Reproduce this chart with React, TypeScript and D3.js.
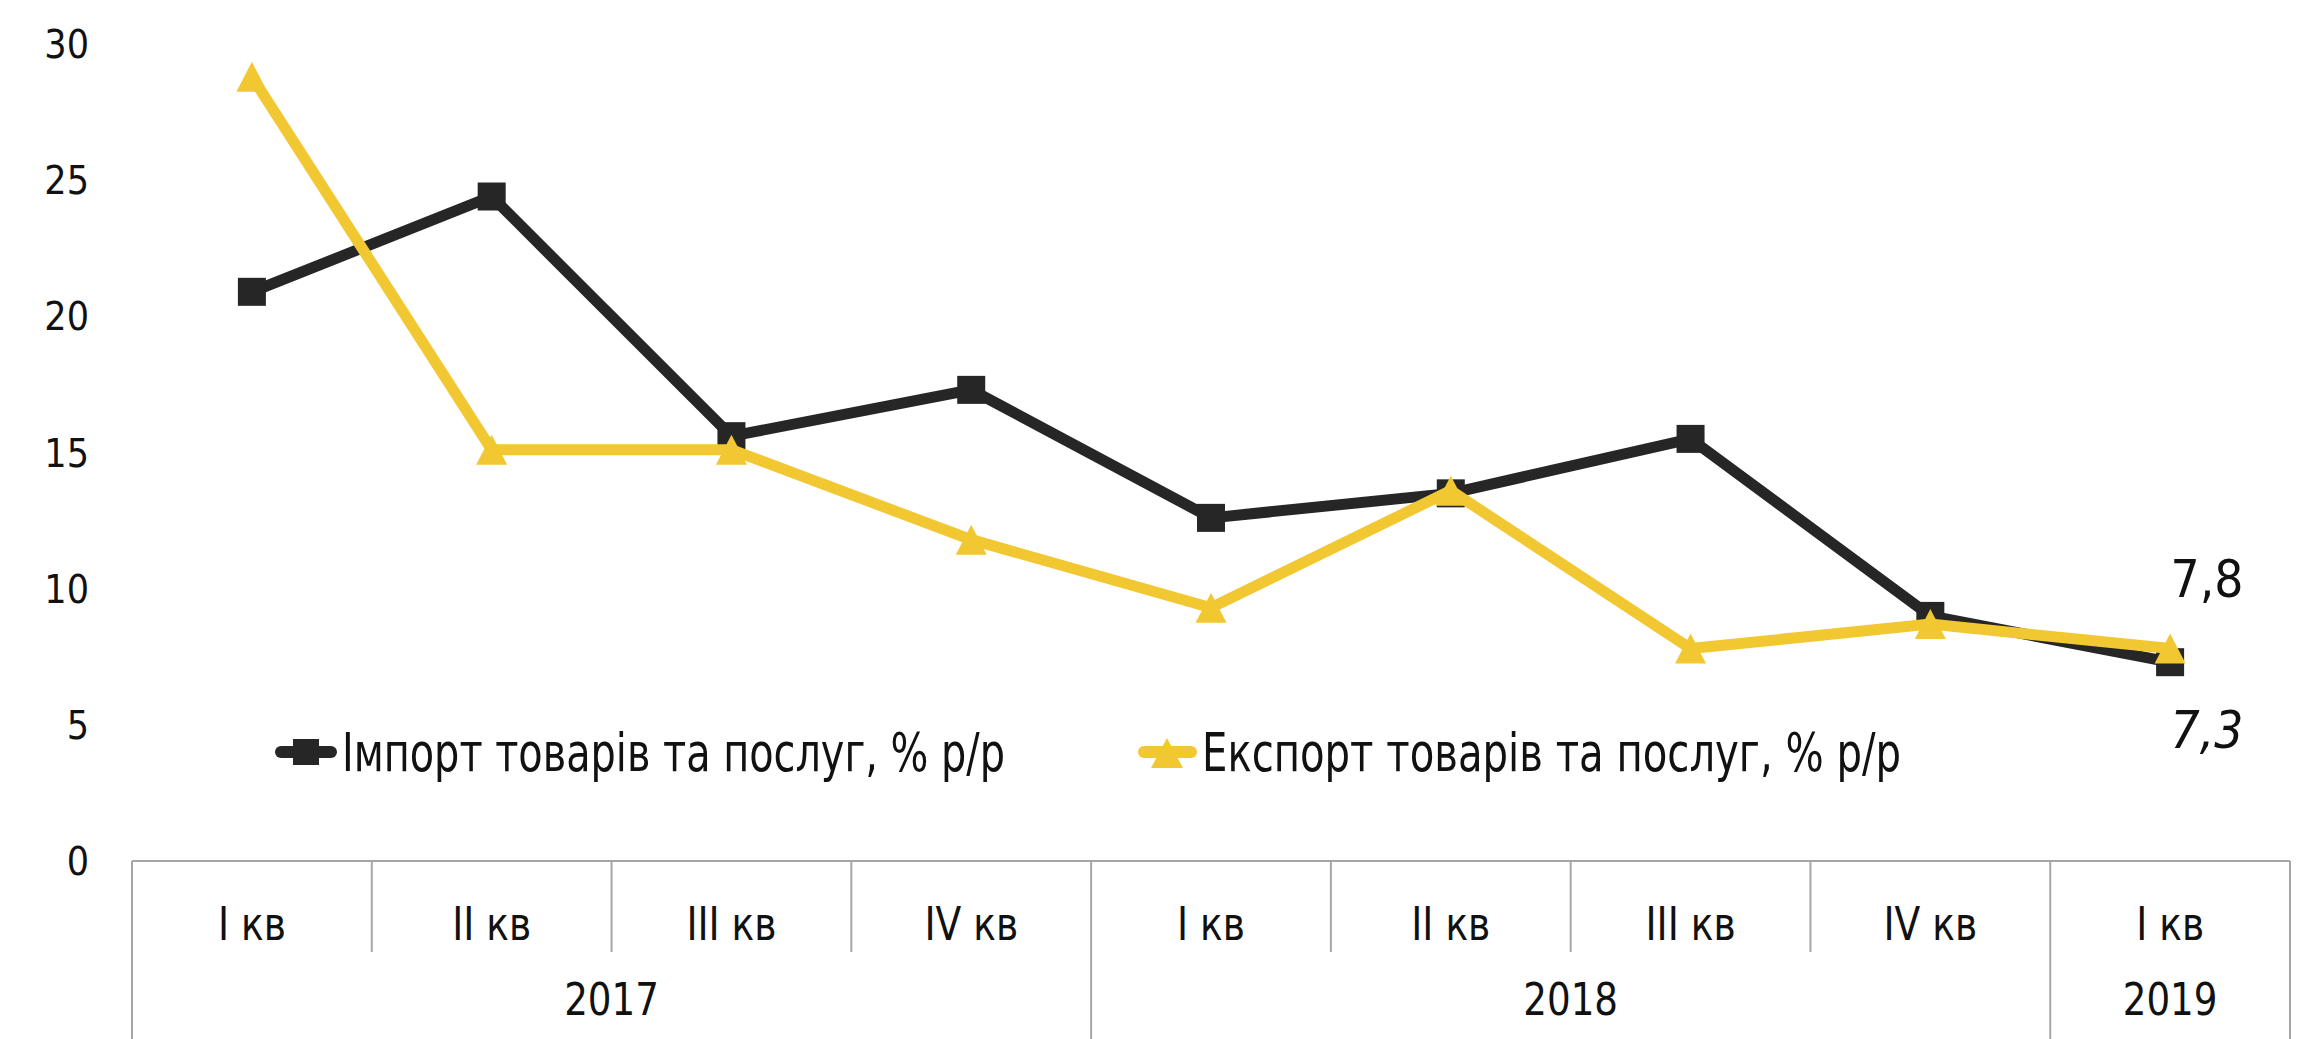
import React from "react";
import * as d3 from "d3";

const quarterLabels = ["I кв", "II кв", "III кв", "IV кв", "I кв", "II кв", "III кв", "IV кв", "I кв"];
const yearLabels = ["2017", "2018", "2019"];
const yearSpans = [4, 4, 1];
const importValues = [20.9, 24.4, 15.6, 17.3, 12.6, 13.5, 15.5, 9.0, 7.3];
const exportValues = [28.8, 15.1, 15.1, 11.8, 9.3, 13.6, 7.8, 8.7, 7.8];
const yTicks = [0, 5, 10, 15, 20, 25, 30];
const importName = "Імпорт товарів та послуг, % р/р";
const exportName = "Експорт товарів та послуг, % р/р";
const lastImportLabel = "7,3";
const lastExportLabel = "7,8";

const W = 2311;
const H = 1039;
const FONT = "'Liberation Sans Narrow', 'DejaVu Sans Condensed', 'Arial Narrow', sans-serif";
const BLACK = "#262626";
const YELLOW = "#F2C832";
const AXIS = "#A6A6A6";

export default function App() {
  const idx = quarterLabels.map((_, i) => i);
  const x = d3.scaleBand<number>().domain(idx).range([132, 2290]).padding(0);
  const cx = (i: number) => (x(i) as number) + x.bandwidth() / 2;
  const y = d3.scaleLinear().domain([0, 30]).range([861, 44]);

  const line = d3
    .line<number>()
    .x((_, i) => cx(i))
    .y((d) => y(d));

  const y0 = y(0);
  const bw = x.bandwidth();

  const yearStarts: number[] = [];
  let acc = 0;
  yearSpans.forEach((s) => {
    yearStarts.push(acc);
    acc += s;
  });
  const yearBoundaryIdx = new Set<number>([0, ...yearStarts, acc]);

  const tri = (px: number, py: number, w: number, h: number) =>
    `M${px},${py - h / 2}L${px + w / 2},${py + h / 2}L${px - w / 2},${py + h / 2}Z`;

  return (
    <svg
      width={W}
      height={H}
      style={{ position: "absolute", left: 0, top: 0, background: "#fff" }}
      fontFamily={FONT}
    >
      {yTicks.map((t) => (
        <text key={t} x={89} y={y(t)} dy="0.36em" textAnchor="end" fontSize={39} fill="#111">
          {t}
        </text>
      ))}

      <line x1={132} x2={2290} y1={y0} y2={y0} stroke={AXIS} strokeWidth={2} />
      {d3.range(quarterLabels.length + 1).map((i) => {
        const xx = i === quarterLabels.length ? 2290 : (x(i) as number);
        const long = yearBoundaryIdx.has(i);
        return (
          <line
            key={"t" + i}
            x1={xx}
            x2={xx}
            y1={y0}
            y2={long ? H : 952}
            stroke={AXIS}
            strokeWidth={2}
          />
        );
      })}
      {quarterLabels.map((q, i) => (
        <text
          key={"q" + i}
          transform={`translate(${cx(i)},940) scale(0.89,1)`}
          textAnchor="middle"
          fontSize={47}
          fill="#111"
        >
          {q}
        </text>
      ))}
      {yearLabels.map((yl, k) => {
        const s = yearStarts[k];
        const mid = (x(s) as number) + (yearSpans[k] * bw) / 2;
        return (
          <text
            key={"y" + k}
            transform={`translate(${mid},1015) scale(0.92,1)`}
            textAnchor="middle"
            fontSize={45}
            fill="#111"
          >
            {yl}
          </text>
        );
      })}

      <path d={line(importValues) || ""} fill="none" stroke={BLACK} strokeWidth={11} strokeLinejoin="miter" />
      {importValues.map((v, i) => (
        <rect key={"s" + i} x={cx(i) - 14} y={y(v) - 14} width={28} height={28} fill={BLACK} />
      ))}

      <path d={line(exportValues) || ""} fill="none" stroke={YELLOW} strokeWidth={11} strokeLinejoin="miter" />
      {exportValues.map((v, i) => (
        <path key={"tr" + i} d={tri(cx(i), y(v), 31, 30)} fill={YELLOW} />
      ))}

      <text x={2207} y={597} textAnchor="middle" fontSize={51} fill="#111">
        {lastExportLabel}
      </text>
      <text x={2207} y={748} textAnchor="middle" fontSize={51} fontStyle="italic" fill="#111">
        {lastImportLabel}
      </text>

      <line x1={281} x2={331} y1={752} y2={752} stroke={BLACK} strokeWidth={12} strokeLinecap="round" />
      <rect x={293} y={739} width={26} height={26} fill={BLACK} />
      <text x={342} y={771} fontSize={54} fill="#111" textLength={663} lengthAdjust="spacingAndGlyphs">
        {importName}
      </text>

      <line x1={1144} x2={1191} y1={752} y2={752} stroke={YELLOW} strokeWidth={12} strokeLinecap="round" />
      <path d={tri(1167, 753, 32, 30)} fill={YELLOW} />
      <text x={1202} y={771} fontSize={54} fill="#111" textLength={699} lengthAdjust="spacingAndGlyphs">
        {exportName}
      </text>
    </svg>
  );
}
